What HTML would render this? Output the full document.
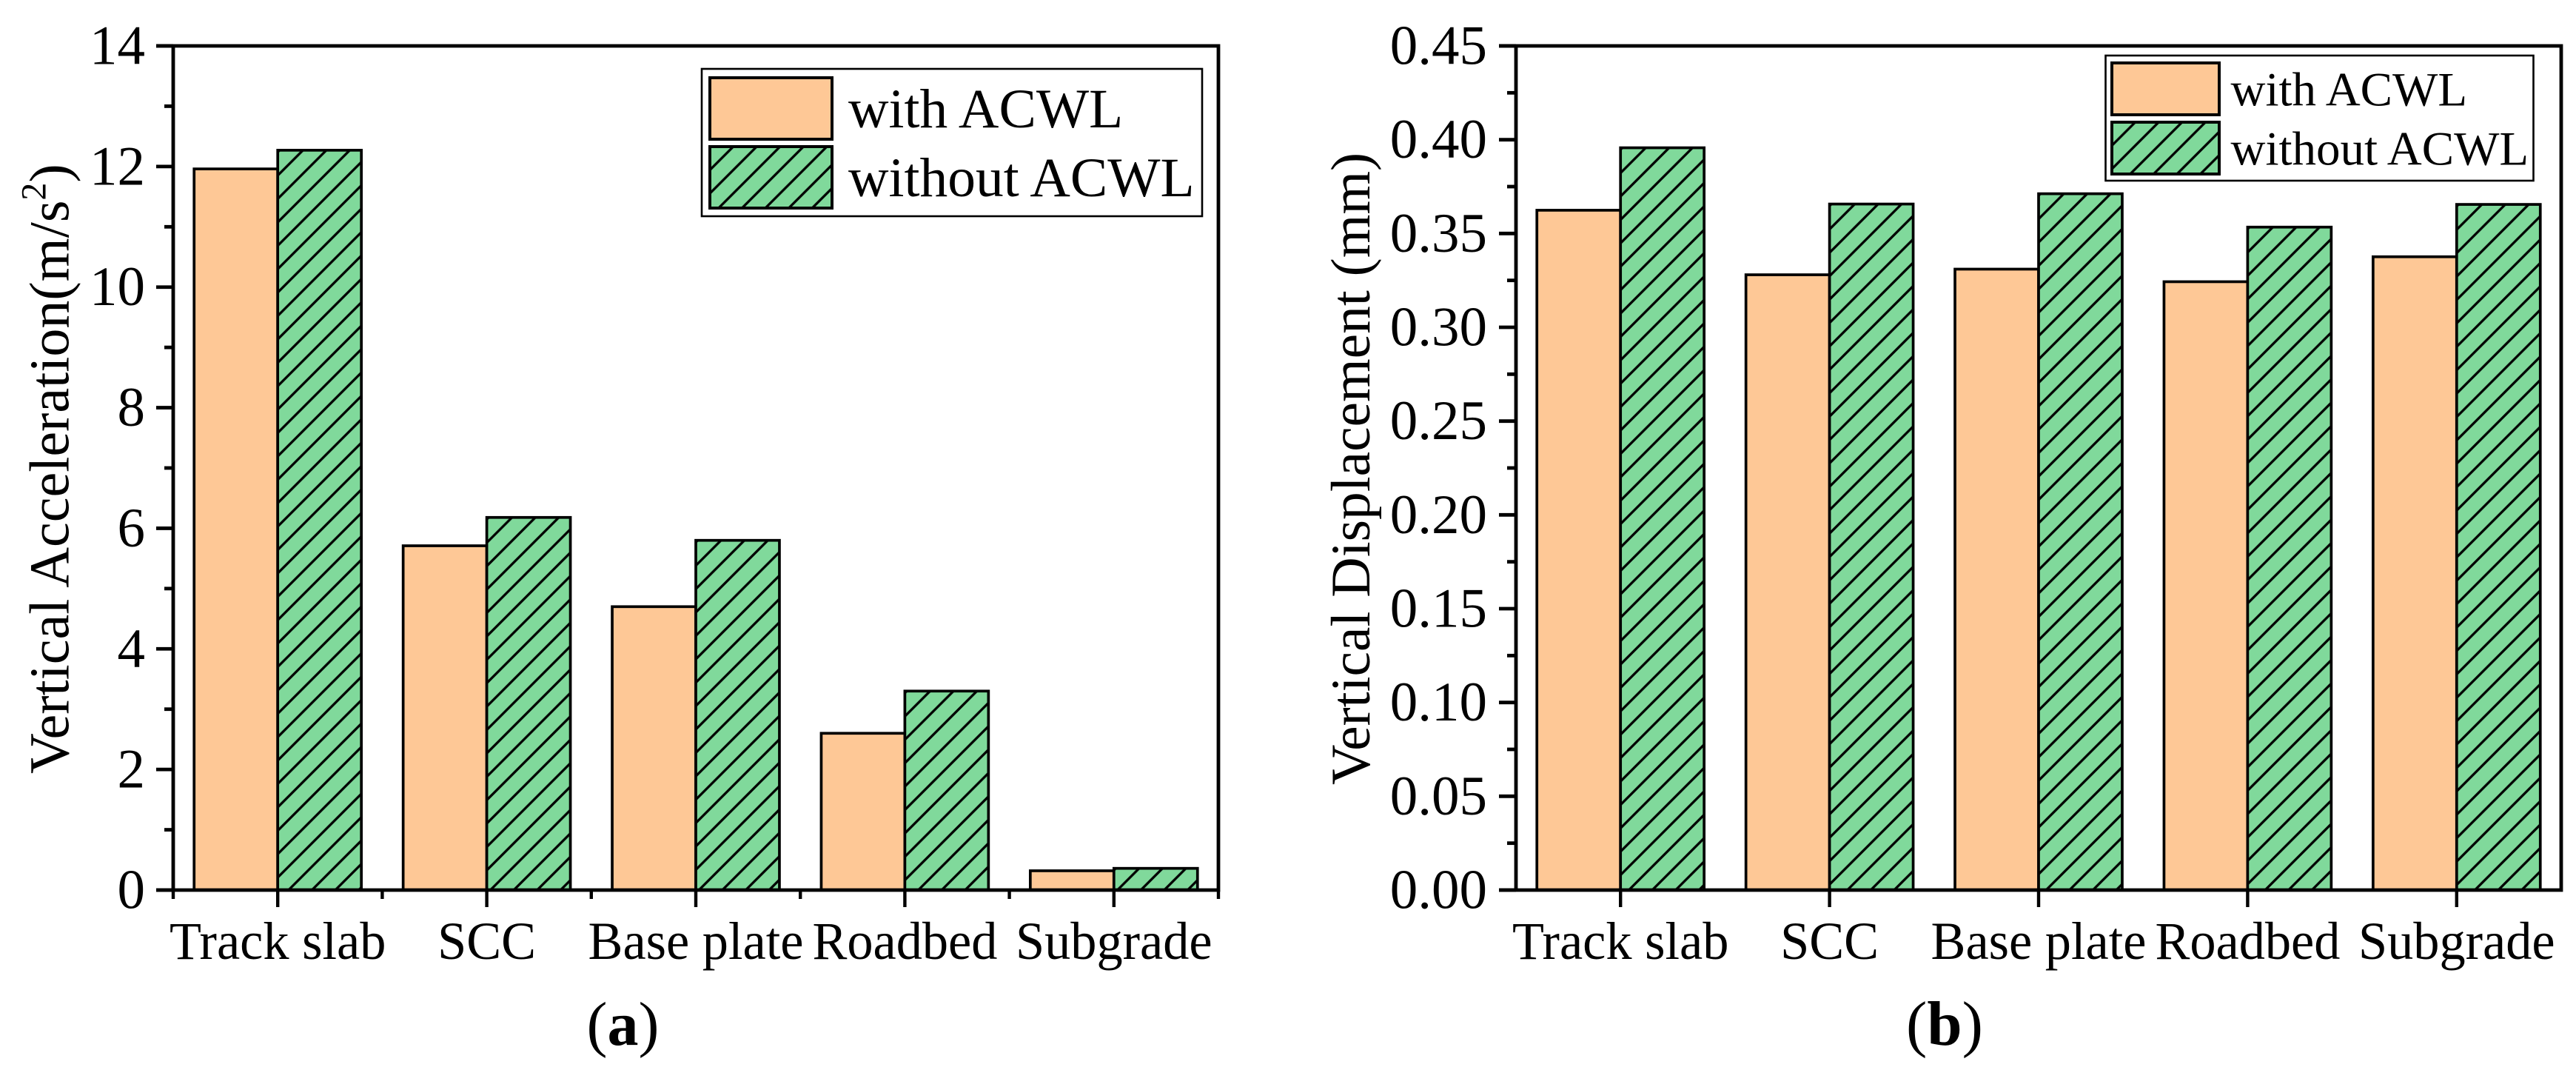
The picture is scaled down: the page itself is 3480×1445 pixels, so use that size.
<!DOCTYPE html>
<html lang="en">
<head>
<meta charset="utf-8">
<title>Vertical Acceleration and Displacement with and without ACWL</title>
<style>
html,body{margin:0;padding:0;background:#fff;}
body{width:3480px;height:1445px;overflow:hidden;}
svg{display:block;}
text{font-family:"Liberation Serif","Times New Roman",serif;fill:#000;}
</style>
</head>
<body>
<svg id="figure" xmlns="http://www.w3.org/2000/svg" width="3480" height="1445" viewBox="0 0 3480 1445">
  <defs id="defs"></defs>
  <rect x="0" y="0" width="3480" height="1445" fill="#ffffff"></rect>
  <g id="panel-a"></g>
  <g id="panel-b"></g>

  <text transform="translate(92.5 1045) rotate(-90)" font-size="76">Vertical Acceleration(m/s<tspan dy="-31" font-size="48">2</tspan><tspan dy="31">)</tspan></text>
  <text transform="translate(1850 1060) rotate(-90)" font-size="75.4">Vertical Displacement (mm)</text>

  <text x="841.5" y="1411" font-size="84" text-anchor="middle">(<tspan font-weight="bold">a</tspan>)</text>
  <text x="2627" y="1411" font-size="85" text-anchor="middle">(<tspan font-weight="bold">b</tspan>)</text>
</svg>
<script>
// ---- chart data ----
const categories = ["Track slab", "SCC", "Base plate", "Roadbed", "Subgrade"];
const seriesNames = ["with ACWL", "without ACWL"];

const accelWith = [11.96, 5.71, 4.70, 2.60, 0.32];
const accelWithout = [12.27, 6.18, 5.80, 3.30, 0.36];
const accelTicks = ["0", "2", "4", "6", "8", "10", "12", "14"];

const dispWith = [0.3624, 0.328, 0.331, 0.3243, 0.3376];
const dispWithout = [0.3957, 0.3657, 0.3712, 0.3534, 0.3655];
const dispTicks = ["0.00", "0.05", "0.10", "0.15", "0.20", "0.25", "0.30", "0.35", "0.40", "0.45"];

// ---- drawing ----
const SVG_NS = "http://www.w3.org/2000/svg";
const ORANGE = "#FEC896";
const GREEN = "#80D99B";
const defs = document.getElementById("defs");
let patternCount = 0;

function make(tag, attrs, parent) {
  const el = document.createElementNS(SVG_NS, tag);
  for (const k in attrs) el.setAttribute(k, attrs[k]);
  parent.appendChild(el);
  return el;
}

function hatchFor(x, y, phase) {
  const p = 31.6;
  const id = "hatch-" + (patternCount++);
  const pat = make("pattern", {
    id: id, patternUnits: "userSpaceOnUse", width: p, height: p,
    patternTransform: "translate(" + x + " " + (y + phase) + ")"
  }, defs);
  make("rect", { x: 0, y: 0, width: p, height: p, fill: GREEN }, pat);
  make("path", {
    d: "M-4 " + (p + 4) + "L" + (p + 4) + " -4M-4 4L4 -4M" + (p - 4) + " " + (p + 4) + "L" + (p + 4) + " " + (p - 4),
    stroke: "#000", "stroke-width": 3.3, fill: "none"
  }, pat);
  return "url(#" + id + ")";
}

function drawPanel(root, cfg) {
  const tickValues = cfg.ticks.map(Number);
  const yMax = tickValues[tickValues.length - 1];
  const xScale = function (i) { return cfg.left + (i + 0.5) * (cfg.right - cfg.left) / categories.length; };
  const yScale = function (v) { return cfg.bottom - (v / yMax) * (cfg.bottom - cfg.top); };
  const barWidth = 0.4 * (cfg.right - cfg.left) / categories.length;

  // bars
  categories.forEach(function (cat, i) {
    const cx = xScale(i);
    const y1 = yScale(cfg.withValues[i]);
    const r1 = make("rect", { x: cx - barWidth, y: y1, width: barWidth, height: cfg.bottom - y1, fill: ORANGE, stroke: "#000", "stroke-width": 3.7 }, root);
    
    
    const y2 = yScale(cfg.withoutValues[i]);
    const r2 = make("rect", { x: cx, y: y2, width: barWidth, height: cfg.bottom - y2, fill: hatchFor(cx, y2, 2.5), stroke: "#000", "stroke-width": 3.7 }, root);
    
    
  });

  // y ticks and labels
  tickValues.forEach(function (v, i) {
    const y = yScale(v);
    const t = make("line", { x1: cfg.left - 23, x2: cfg.left, y1: y, y2: y, stroke: "#000", "stroke-width": 4.8 }, root);
    
    
    const lab = make("text", { x: cfg.yLabelX, y: y + 24.5, "font-size": 75, "text-anchor": "end" }, root);
    lab.textContent = cfg.ticks[i];
    
    
    if (i < tickValues.length - 1) {
      const ym = yScale((v + tickValues[i + 1]) / 2);
      const m = make("line", { x1: cfg.left - 12, x2: cfg.left, y1: ym, y2: ym, stroke: "#000", "stroke-width": 4.8 }, root);
      
      
    }
  });

  // x ticks and labels
  categories.forEach(function (cat, i) {
    const x = xScale(i);
    const t = make("line", { x1: x, x2: x, y1: cfg.bottom, y2: cfg.bottom + 23, stroke: "#000", "stroke-width": 4.4 }, root);
    
    
    const lab = make("text", { transform: "translate(" + x + " 1295) scale(0.97 1)", x: 0, y: 0, "font-size": 72.5, "text-anchor": "middle" }, root);
    lab.textContent = cat;
    
    
  });
  if (cfg.xMinor) {
    for (let i = 0; i <= categories.length; i++) {
      const x = xScale(i - 0.5);
      const m = make("line", { x1: x, x2: x, y1: cfg.bottom, y2: cfg.bottom + 12, stroke: "#000", "stroke-width": 4.4 }, root);
      
      
    }
  }

  // axis frame
  const frame = make("path", {
    d: "M" + (cfg.left - 23) + " " + cfg.top + "H" + cfg.right + "V" + cfg.bottom + "H" + (cfg.left - 23) +
       "M" + cfg.left + " " + cfg.top + "V" + cfg.bottom,
    fill: "none", stroke: "#000", "stroke-width": 4.8
  }, root);
  
  

  // legend
  const lg = cfg.legend;
  const legend = make("g", {}, root);
  
  
  const box = make("rect", { x: lg.x, y: lg.y, width: lg.w, height: lg.h, fill: "#fff", stroke: "#000", "stroke-width": 2.6 }, legend);
  
  
  seriesNames.forEach(function (name, i) {
    const sy = lg.swatchY[i];
    const fill = i === 0 ? ORANGE : hatchFor(lg.swatchX, sy, 0);
    const sw = make("rect", { x: lg.swatchX, y: sy, width: lg.swatchW, height: lg.swatchH, fill: fill, stroke: "#000", "stroke-width": 4 }, legend);
    
    
    const tx = make("text", { x: lg.textX, y: lg.baseY[i], "font-size": lg.fontSize }, legend);
    tx.textContent = name;
    
    
  });
}

drawPanel(document.getElementById("panel-a"), {
  left: 234, right: 1646, top: 62, bottom: 1202,
  yLabelX: 196, xMinor: true,
  ticks: accelTicks, withValues: accelWith, withoutValues: accelWithout,
  legend: { x: 948, y: 93, w: 676, h: 199, swatchX: 959, swatchW: 165, swatchH: 83, swatchY: [105, 198], textX: 1146, baseY: [172, 265], fontSize: 75.5 }
});

drawPanel(document.getElementById("panel-b"), {
  left: 2048, right: 3460, top: 62, bottom: 1202,
  yLabelX: 2009, xMinor: false,
  ticks: dispTicks, withValues: dispWith, withoutValues: dispWithout,
  legend: { x: 2844.5, y: 75, w: 578, h: 169, swatchX: 2853, swatchW: 145, swatchH: 70, swatchY: [85, 165], textX: 3013.5, baseY: [142.3, 222.7], fontSize: 65 }
});
</script>
</body>
</html>
